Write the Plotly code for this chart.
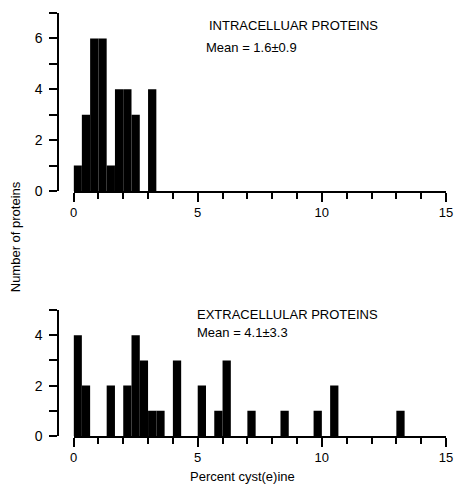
import plotly.graph_objects as go

# ---- data (bins are 1/3 % cyst(e)ine wide; index = bin number from 0) ----
BIN_WIDTH = 1 / 3
intra_bins = [0, 1, 2, 3, 4, 5, 6, 7, 9]
intra_counts = [1, 3, 6, 6, 1, 4, 4, 3, 4]

extra_bins = [0, 1, 4, 6, 7, 8, 9, 10, 12, 15, 17, 18, 21, 25, 29, 31, 39]
extra_counts = [4, 2, 2, 2, 4, 3, 1, 1, 3, 2, 1, 3, 1, 1, 1, 2, 1]

x_ticks = [0, 5, 10, 15]
intra_title = "INTRACELLUAR PROTEINS"
intra_mean = "Mean = 1.6±0.9"
extra_title = "EXTRACELLULAR PROTEINS"
extra_mean = "Mean = 4.1±3.3"

FONT = "Liberation Sans Narrow, Liberation Sans, Arial, sans-serif"

fig = go.Figure()
fig.add_trace(go.Bar(
    x=[k * BIN_WIDTH for k in intra_bins], y=intra_counts,
    width=BIN_WIDTH, offset=0, marker=dict(color="black", line=dict(width=0)),
    xaxis="x", yaxis="y", showlegend=False, hoverinfo="skip"))
fig.add_trace(go.Bar(
    x=[k * BIN_WIDTH for k in extra_bins], y=extra_counts,
    width=BIN_WIDTH, offset=0, marker=dict(color="black", line=dict(width=0)),
    xaxis="x2", yaxis="y2", showlegend=False, hoverinfo="skip"))

xdom = [0.1045, 0.9976]
ypos = 0.0672

xcommon = dict(range=[0, 15], domain=xdom, showgrid=False, zeroline=False,
               showline=True, linecolor="black", linewidth=1.5,
               ticks="outside", tickvals=x_ticks, ticklen=9, tickwidth=1.5,
               tickcolor="black", ticklabeloverflow="allow",
               minor=dict(ticks="outside", dtick=1, ticklen=6, tickwidth=1.5,
                          tickcolor="black"),
               tickfont=dict(family=FONT, size=13, color="black"))
ycommon = dict(showgrid=False, zeroline=False, showline=True, linecolor="black",
               linewidth=1.5, ticks="outside", dtick=2, ticklen=8, tickwidth=1.5,
               tickcolor="black", anchor="free", position=ypos,
               ticklabelstandoff=4,
               minor=dict(ticks="outside", dtick=1, ticklen=8, tickwidth=1.5,
                          tickcolor="black"),
               tickfont=dict(family=FONT, size=14, color="black"))

fig.update_layout(
    width=460, height=489,
    margin=dict(l=30, r=6, t=13, b=53),
    paper_bgcolor="white", plot_bgcolor="white",
    xaxis=dict(anchor="y", **xcommon),
    yaxis=dict(range=[0, 7], domain=[0.5792, 1.0], **ycommon),
    xaxis2=dict(anchor="y2", **xcommon),
    yaxis2=dict(range=[0, 5], domain=[0.0, 0.2979], **ycommon),
    font=dict(family=FONT, color="black"),
)

ann = dict(xref="paper", yref="paper", showarrow=False,
           font=dict(family=FONT, size=13, color="black"))
fig.add_annotation(text=intra_title, x=0.4245, y=0.9693, xanchor="left", yanchor="middle", **ann)
fig.add_annotation(text=intra_mean, x=0.4175, y=0.9173, xanchor="left", yanchor="middle", **ann)
fig.add_annotation(text=extra_title, x=0.3962, y=0.2861, xanchor="left", yanchor="middle", **ann)
fig.add_annotation(text=extra_mean, x=0.3962, y=0.2435, xanchor="left", yanchor="middle", **ann)
fig.add_annotation(text="Number of proteins", x=-0.0354, y=0.4704, textangle=-90,
                   xanchor="center", yanchor="middle", **ann)
fig.add_annotation(text="Percent cyst(e)ine", x=0.509, y=-0.0969,
                   xanchor="center", yanchor="middle", **ann)

fig.write_html("out.html", config={"displayModeBar": False},
               post_script="document.body.style.margin='0';document.body.style.padding='0';")
